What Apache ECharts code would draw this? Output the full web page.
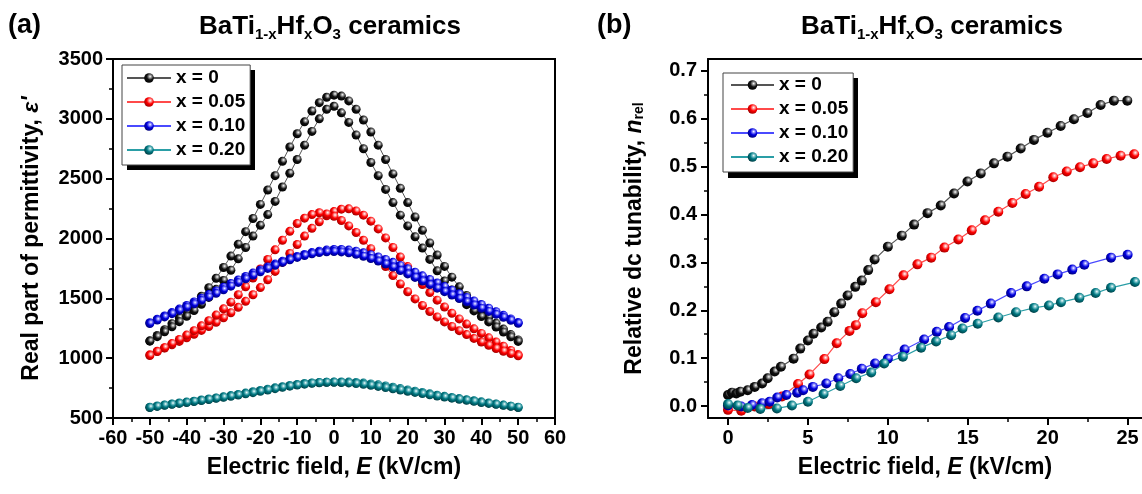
<!DOCTYPE html>
<html>
<head>
<meta charset="utf-8">
<script src="https://cdn.jsdelivr.net/npm/echarts@6/dist/echarts.min.js"></script>
<style>
html,body{margin:0;padding:0;background:#fff;}
#chart{width:1142px;height:494px;}
</style>
</head>
<body>
<div id="chart"></div>
<script>
var fontFam = "'Liberation Sans', Arial, sans-serif";

// (a) 电场, kV/cm
var fieldA = [-50,-48,-46,-44,-42,-40,-38,-36,-34,-32,-30,-28,-26,-24,-22,-20,-18,-16,-14,-12,-10,-8,-6,-4,-2,0,
    2,4,6,8,10,12,14,16,18,20,22,24,26,28,30,32,34,36,38,40,42,44,46,48,50];
// 介电常数, 两个支路
var eps0Up = [1145,1190,1238,1288,1338,1392,1452,1517,1588,1668,1758,1853,1952,2057,2167,2285,2405,2525,2645,2765,2875,2975,3065,3135,3180,3198,
    3190,3150,3080,2990,2890,2780,2660,2540,2420,2300,2180,2068,1962,1862,1767,1677,1596,1524,1458,1398,1342,1292,1243,1197,1152];
var eps0Down = [1142,1180,1220,1262,1305,1350,1398,1450,1508,1575,1650,1735,1830,1925,2020,2110,2200,2310,2430,2545,2660,2780,2895,3000,3080,3105,
    3050,2970,2865,2750,2635,2525,2410,2300,2195,2105,2015,1920,1825,1730,1645,1570,1505,1447,1395,1348,1303,1260,1218,1178,1140];
var eps5Up = [1028,1058,1085,1112,1140,1170,1200,1232,1265,1300,1338,1380,1425,1475,1530,1590,1655,1725,1800,1875,1950,2020,2085,2140,2190,2225,
    2245,2248,2230,2195,2145,2080,2005,1925,1845,1765,1690,1615,1548,1485,1428,1375,1328,1285,1245,1207,1170,1135,1100,1065,1030];
var eps5Down = [1022,1055,1088,1122,1157,1193,1230,1270,1313,1360,1412,1468,1530,1597,1670,1745,1825,1905,1985,2060,2125,2170,2200,2215,2205,2185,
    2150,2105,2050,1985,1915,1840,1765,1690,1620,1555,1495,1440,1390,1345,1303,1265,1230,1197,1165,1135,1107,1081,1058,1038,1020];
var eps10Up = [1297,1325,1353,1381,1410,1440,1470,1500,1531,1562,1593,1624,1654,1683,1711,1737,1762,1786,1809,1830,1850,1867,1882,1894,1903,1908,
    1908,1903,1894,1881,1865,1846,1825,1801,1775,1747,1718,1688,1658,1628,1598,1568,1538,1508,1478,1448,1418,1388,1358,1328,1298];
var eps10Down = [1290,1318,1345,1372,1399,1426,1454,1483,1512,1542,1572,1602,1633,1663,1693,1722,1750,1776,1800,1822,1842,1858,1872,1882,1889,1891,
    1888,1880,1868,1852,1833,1811,1787,1761,1733,1704,1675,1645,1615,1585,1556,1527,1499,1471,1444,1417,1391,1366,1341,1316,1292];
var eps20Up = [590,600,609,617,625,633,641,650,659,668,677,687,697,708,719,730,741,752,762,772,780,788,793,797,799,800,
    801,800,797,792,785,777,768,757,746,735,724,713,702,691,681,671,662,653,644,635,626,617,608,599,588];
var eps20Down = [588,597,606,614,622,630,638,646,655,664,673,682,692,702,712,723,734,745,756,766,775,783,790,795,798,799,
    797,793,788,781,773,764,754,744,734,724,714,704,694,684,675,666,657,648,639,630,622,614,606,598,590];

// (b) 相对调谐率
var fieldB0 = [0,0.25,0.52,0.77,1.23,1.67,2.13,2.48,2.92,3.31,4.1,4.52,5.0,5.35,5.83,6.23,6.65,7.08,7.48,7.96,8.37,8.77,9.17,10.0,
    10.87,11.64,12.48,13.31,14.14,14.98,15.81,16.64,17.48,18.31,19.14,19.98,20.81,21.64,22.48,23.31,24.14,24.98];
var tun0 = [0.023,0.028,0.026,0.030,0.033,0.040,0.047,0.058,0.072,0.082,0.099,0.120,0.137,0.151,0.164,0.176,0.196,0.214,0.231,0.249,0.262,0.284,0.306,0.333,
    0.356,0.379,0.403,0.419,0.444,0.469,0.486,0.507,0.521,0.538,0.556,0.571,0.585,0.599,0.612,0.629,0.638,0.638];
var fieldB5 = [0,0.83,1.67,2.54,3.38,4.38,5.1,6.03,6.8,7.6,8.0,8.4,9.25,10.1,10.98,11.85,12.71,13.54,14.41,15.25,16.08,16.91,
    17.79,18.62,19.46,20.35,21.19,22.02,22.85,23.69,24.56,25.41];
var tun5 = [-0.008,-0.010,-0.001,0.004,0.020,0.046,0.066,0.098,0.131,0.157,0.169,0.194,0.217,0.244,0.273,0.296,0.310,0.331,0.348,0.367,0.388,0.406,
    0.424,0.443,0.458,0.478,0.490,0.499,0.507,0.516,0.523,0.526];
var fieldB10 = [0,0.83,1.5,2.13,2.6,3.08,3.65,4.33,4.7,5.31,6.15,6.9,7.65,8.37,9.2,10.0,11.05,12.27,13.06,13.83,14.83,15.6,16.44,17.71,
    18.69,19.79,20.62,21.54,22.29,23.96,25.0];
var tun10 = [0.001,-0.001,0.002,0.006,0.009,0.018,0.023,0.028,0.033,0.040,0.047,0.058,0.067,0.078,0.089,0.099,0.118,0.139,0.155,0.165,0.184,0.199,0.214,0.236,
    0.250,0.266,0.275,0.285,0.295,0.310,0.316];
var fieldB20 = [0,0.6,1.23,2.02,3.06,4.0,5.0,5.98,7.02,8.02,8.96,9.77,10.94,12.08,13.02,13.96,14.67,15.62,16.91,18.02,19.14,20.08,20.83,21.98,23.0,23.96,25.46];
var tun20 = [0.004,0.001,-0.004,-0.006,-0.005,0.001,0.009,0.025,0.042,0.058,0.070,0.089,0.103,0.122,0.135,0.148,0.162,0.172,0.185,0.196,0.205,0.210,0.217,0.226,0.236,0.247,0.259];

// 刻度
var yTicksB = [0, 0.1, 0.2, 0.3, 0.4, 0.5, 0.6, 0.7];
var yMinorB = [0.05, 0.15, 0.25, 0.35, 0.45, 0.55, 0.65];
var xTicksB = [0, 5, 10, 15, 20, 25];
var xMinorB = [2.5, 7.5, 12.5, 17.5, 22.5];
var names = ['x = 0', 'x = 0.05', 'x = 0.10', 'x = 0.20'];

var ballColor = ['#111111', '#ff0000', '#0000dd', '#007882'];
var ballLight = ['#9a9a9a', '#ff9a9a', '#8a8aff', '#7cc4ca'];
var ballDark = ['#000000', '#9a0000', '#000070', '#003a40'];
var lineColor = ['#555555', '#ff4a4a', '#4a4aff', '#2a9ea6'];

function ball(i){
    return {type: 'radial', x: 0.62, y: 0.35, r: 0.7, colorStops: [
        {offset: 0, color: '#ffffff'},
        {offset: 0.2, color: ballLight[i]},
        {offset: 0.5, color: ballColor[i]},
        {offset: 1, color: ballDark[i]}
    ]};
}

//两个支路连成一个回线
function loop(up, down){
    var pts = [];
    for(var i = 0; i < fieldA.length; i++) pts.push([fieldA[i], up[i]]);
    for(var j = fieldA.length - 1; j >= 0; j--) pts.push([fieldA[j], down[j]]);
    return pts;
}
function pairs(xs, ys){
    var pts = [];
    for(var i = 0; i < xs.length; i++) pts.push([xs[i], ys[i]]);
    return pts;
}

var loopsA = [loop(eps0Up, eps0Down), loop(eps5Up, eps5Down), loop(eps10Up, eps10Down), loop(eps20Up, eps20Down)];
var curvesB = [pairs(fieldB0, tun0), pairs(fieldB5, tun5), pairs(fieldB10, tun10), pairs(fieldB20, tun20)];

var lbl = {fontSize: 20, fontWeight: 'bold', color: '#000', fontFamily: fontFam};
var axLine = {show: true, onZero: false, lineStyle: {color: '#000', width: 2}};
var nameRich = {
    b: {fontSize: 23, fontWeight: 'bold', fontFamily: fontFam, color: '#000'},
    i: {fontSize: 23, fontWeight: 'bold', fontStyle: 'italic', fontFamily: fontFam, color: '#000'},
    s: {fontSize: 14, fontWeight: 'bold', fontFamily: fontFam, color: '#000', verticalAlign: 'bottom', lineHeight: 14, padding: [14, 0, 0, 0]}
};
var titleRich = {
    m: {fontSize: 26, fontWeight: 'bold', fontFamily: fontFam, color: '#000', verticalAlign: 'top', lineHeight: 28},
    s: {fontSize: 15, fontWeight: 'bold', fontFamily: fontFam, color: '#000', verticalAlign: 'bottom', lineHeight: 15, padding: [18, 0, 0, 0]}
};
var titleText = '{m|BaTi}{s|1-x}{m|Hf}{s|x}{m|O}{s|3}{m| ceramics}';

var series = [];
for(var k = 0; k < 4; k++){
    series.push({
        name: names[k], type: 'line', xAxisIndex: 0, yAxisIndex: 0,
        data: loopsA[k], symbol: 'circle', symbolSize: 9, showAllSymbol: true,
        itemStyle: {color: ball(k)},
        lineStyle: {color: lineColor[k], width: 1}
    });
}
for(var k2 = 0; k2 < 4; k2++){
    series.push({
        name: names[k2], type: 'line', xAxisIndex: 1, yAxisIndex: 1,
        data: curvesB[k2], symbol: 'circle', symbolSize: 10, showAllSymbol: true,
        itemStyle: {color: ball(k2)},
        lineStyle: {color: lineColor[k2], width: 1.2}
    });
}

var legendBase = {
    orient: 'vertical', data: names, selectedMode: false,
    backgroundColor: '#fff', borderColor: '#444', borderWidth: 1,
    itemHeight: 12, itemGap: 4,
    textStyle: {fontSize: 19, fontWeight: 'bold', fontFamily: fontFam, color: '#000', lineHeight: 20},
    z: 10
};

var option = {
    animation: false,
    backgroundColor: '#fff',
    title: [
        {text: '(a)', left: 8, top: 12, padding: 0, textStyle: {fontSize: 27, fontWeight: 'bold', fontFamily: fontFam, color: '#000'}},
        {text: titleText, left: 330, top: 14, padding: 0, textAlign: 'center', textStyle: {rich: titleRich}},
        {text: '(b)', left: 597, top: 12, padding: 0, textStyle: {fontSize: 27, fontWeight: 'bold', fontFamily: fontFam, color: '#000'}},
        {text: titleText, left: 932, top: 14, padding: 0, textAlign: 'center', textStyle: {rich: titleRich}}
    ],
    // 图例的阴影
    graphic: [
        {type: 'rect', z: 9, silent: true, shape: {x: 127, y: 70, width: 128, height: 100}, style: {fill: '#000'}},
        {type: 'rect', z: 9, silent: true, shape: {x: 728, y: 78, width: 130, height: 100}, style: {fill: '#000'}}
    ],
    legend: [
        Object.assign({}, legendBase, {left: 122, top: 65, itemWidth: 44, padding: [3, 5, 5, 4]}),
        Object.assign({}, legendBase, {left: 723, top: 73, itemWidth: 43, padding: [2, 5, 5, 7]})
    ],
    grid: [
        {left: 113, right: 587, top: 59, bottom: 76, show: true, borderColor: '#000', borderWidth: 2, backgroundColor: 'transparent', outerBoundsMode: 'none'},
        {left: 708, right: 0, top: 59, bottom: 76, outerBoundsMode: 'none'}
    ],
    xAxis: [
        {
            gridIndex: 0, type: 'value', min: -60, max: 60, interval: 10, position: 'bottom',
            axisLine: axLine,
            axisTick: {show: true, inside: false, length: 7, lineStyle: {color: '#000', width: 2}},
            minorTick: {show: true, splitNumber: 2, length: 4, lineStyle: {color: '#000', width: 1.5}},
            axisLabel: Object.assign({margin: 10}, lbl),
            splitLine: {show: false},
            name: '{b|Electric field, }{i|E}{b| (kV/cm)}', nameLocation: 'middle', nameGap: 38,
            nameTextStyle: {rich: nameRich}
        },
        {
            gridIndex: 1, type: 'value', min: -1.25, max: 25.9, position: 'bottom',
            axisLine: axLine,
            axisTick: {show: true, inside: false, length: 7, customValues: xTicksB, lineStyle: {color: '#000', width: 2}},
            axisLabel: Object.assign({margin: 10, customValues: xTicksB}, lbl),
            splitLine: {show: false},
            name: '{b|Electric field, }{i|E}{b| (kV/cm)}', nameLocation: 'middle', nameGap: 38,
            nameTextStyle: {rich: nameRich}
        },
        {
            gridIndex: 1, type: 'value', min: -1.25, max: 25.9, position: 'bottom',
            axisLine: {show: false, onZero: false},
            axisTick: {show: true, inside: false, length: 4, customValues: xMinorB, lineStyle: {color: '#000', width: 1.5}},
            axisLabel: {show: false}, splitLine: {show: false}
        },
        {
            gridIndex: 1, type: 'value', min: -1.25, max: 25.9, position: 'top',
            axisLine: axLine, axisTick: {show: false}, axisLabel: {show: false}, splitLine: {show: false}
        }
    ],
    yAxis: [
        {
            gridIndex: 0, type: 'value', min: 500, max: 3500, interval: 500,
            axisLine: axLine,
            axisTick: {show: true, inside: false, length: 7, lineStyle: {color: '#000', width: 2}},
            minorTick: {show: true, splitNumber: 2, length: 4, lineStyle: {color: '#000', width: 1.5}},
            axisLabel: Object.assign({margin: 10, formatter: function(v){ return String(v); }}, lbl),
            splitLine: {show: false},
            name: "{b|Real part of permittivity, }{i|ε'}", nameLocation: 'middle', nameGap: 70,
            nameTextStyle: {rich: nameRich}
        },
        {
            gridIndex: 1, type: 'value', min: -0.025, max: 0.725, position: 'left',
            axisLine: axLine,
            axisTick: {show: true, inside: false, length: 7, customValues: yTicksB, lineStyle: {color: '#000', width: 2}},
            axisLabel: Object.assign({margin: 11, customValues: yTicksB, formatter: function(v){ return v.toFixed(1); }}, lbl),
            splitLine: {show: false},
            name: '{b|Relative dc tunability, }{i|n}{s|rel}', nameLocation: 'middle', nameGap: 62,
            nameTextStyle: {rich: nameRich}
        },
        {
            gridIndex: 1, type: 'value', min: -0.025, max: 0.725, position: 'left',
            axisLine: {show: false, onZero: false},
            axisTick: {show: true, inside: false, length: 4, customValues: yMinorB, lineStyle: {color: '#000', width: 1.5}},
            axisLabel: {show: false}, splitLine: {show: false}
        }
    ],
    series: series
};

var myCharts = echarts.init(document.getElementById('chart'));
myCharts.setOption(option);
</script>
</body>
</html>
